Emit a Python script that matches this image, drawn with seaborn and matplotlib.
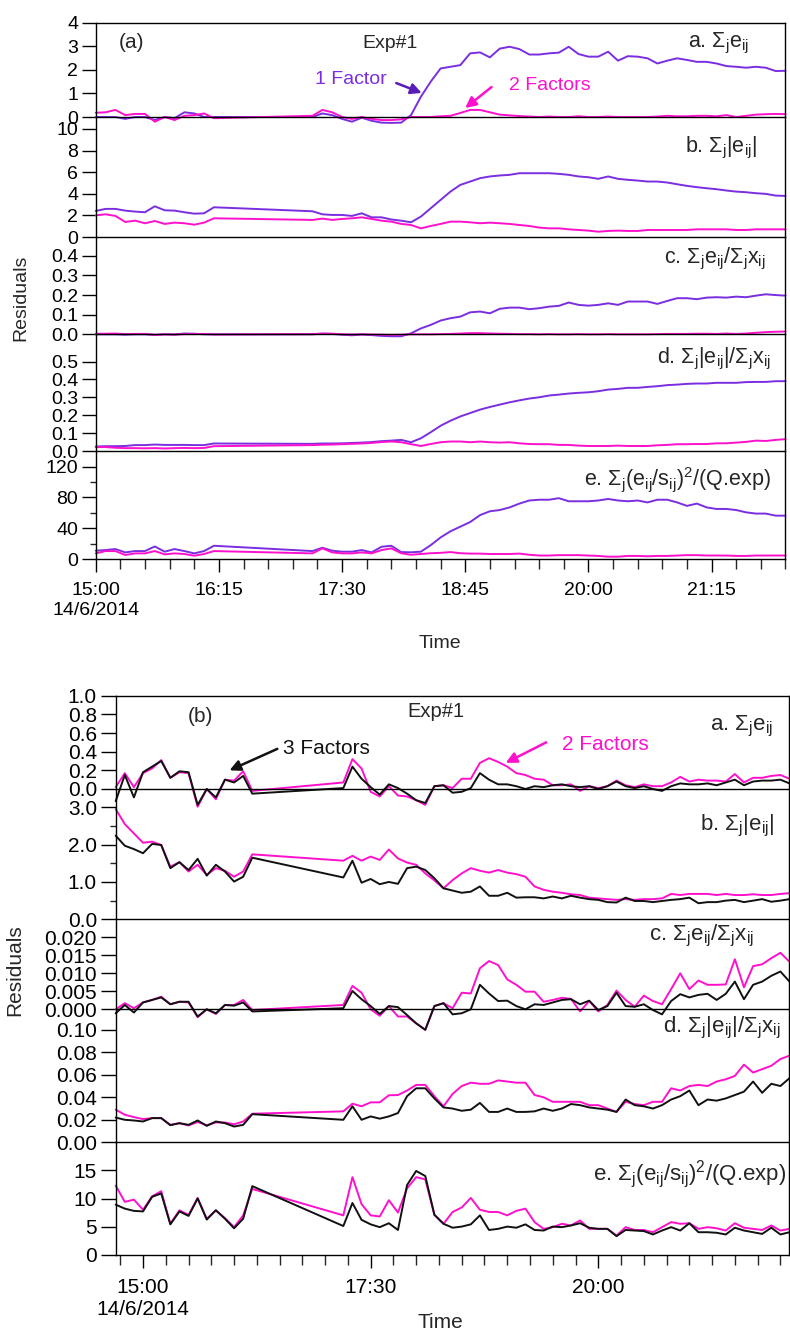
import numpy as np
import pandas as pd
import matplotlib
matplotlib.use("Agg")
import matplotlib.pyplot as plt
import matplotlib.ticker as mticker
import seaborn as sns

# ---------------------------------------------------------------- data
# sampling times, minutes after midnight on 14/6/2014 (6-min resolution, gap 16:12-17:12)
T_A = np.r_[np.arange(900, 972 + 1, 6), np.arange(1032, 1320 + 1, 6)]
T_B = np.r_[np.arange(882, 972 + 1, 6), np.arange(1032, 1326 + 1, 6)]

# (a) 1-factor vs 2-factor solution
A_SUM_E_1F = [0.0, 0.0, 0.0, -0.08, 0.0, 0.0, -0.13, 0.0, -0.05, 0.2, 0.15, 0.0, 0.0,
              0.0, 0.15, 0.08, -0.08, -0.2, -0.03, -0.16, -0.24,
              -0.25, -0.24, 0.08, 0.86, 1.5, 2.06, 2.13, 2.2, 2.7, 2.74, 2.53, 2.9, 2.98, 2.88,
              2.65, 2.65, 2.7, 2.73, 2.98, 2.67, 2.56, 2.56, 2.77, 2.39, 2.58, 2.56, 2.49, 2.27,
              2.39, 2.49, 2.42, 2.34, 2.34, 2.27, 2.16, 2.13, 2.09, 2.13, 2.09, 1.95, 1.96]
A_SUM_E_2F = [0.18, 0.2, 0.3, 0.08, 0.13, 0.13, -0.2, 0.0, -0.13, 0.05, 0.08, 0.15, -0.05,
              0.05, 0.3, 0.2, 0.0, -0.08, 0.0, -0.08, -0.13,
              -0.13, -0.1, 0.0, 0.0, 0.0, 0.03, 0.05, 0.17, 0.3, 0.3, 0.2, 0.1, 0.07, 0.04,
              0.02, 0.0, 0.02, 0.0, 0.0, 0.03, 0.0, 0.0, 0.02, 0.0, 0.0, 0.0, 0.0, 0.02,
              0.05, 0.03, 0.03, 0.05, 0.05, 0.03, 0.08, 0.0, 0.05, 0.1, 0.12, 0.13, 0.12]
A_SUM_ABS_1F = [2.41, 2.6, 2.6, 2.44, 2.35, 2.29, 2.84, 2.47, 2.44, 2.29, 2.16, 2.19, 2.75,
                2.38, 2.1, 2.04, 2.04, 1.95, 2.19, 1.82, 1.82,
                1.62, 1.51, 1.36, 1.89, 2.66, 3.43, 4.2, 4.82, 5.13, 5.44, 5.6, 5.69, 5.75, 5.9,
                5.9, 5.9, 5.9, 5.84, 5.75, 5.6, 5.53, 5.38, 5.6, 5.38, 5.29, 5.22, 5.13, 5.13,
                5.04, 4.88, 4.73, 4.61, 4.51, 4.42, 4.3, 4.2, 4.14, 4.05, 3.99, 3.83, 3.8]
A_SUM_ABS_2F = [2.0, 2.1, 1.95, 1.39, 1.51, 1.27, 1.48, 1.21, 1.33, 1.27, 1.14, 1.33, 1.73,
                1.58, 1.7, 1.58, 1.67, 1.73, 1.82, 1.67, 1.51,
                1.42, 1.21, 1.11, 0.8, 1.02, 1.21, 1.42, 1.42, 1.36, 1.27, 1.33, 1.27, 1.21, 1.11,
                1.02, 0.87, 0.8, 0.8, 0.71, 0.65, 0.59, 0.49, 0.56, 0.59, 0.56, 0.56, 0.65, 0.65,
                0.65, 0.65, 0.65, 0.71, 0.71, 0.71, 0.71, 0.65, 0.65, 0.71, 0.71, 0.71, 0.71]
A_REL_1F = [0.0, 0.0, 0.0, -0.002, 0.0, 0.0, -0.003, 0.0, -0.001, 0.004, 0.003, 0.0, 0.0,
            0.0, 0.003, 0.002, -0.002, -0.005, -0.001, -0.004, -0.008,
            -0.01, -0.01, 0.005, 0.03, 0.048, 0.07, 0.082, 0.09, 0.112, 0.116, 0.107, 0.13,
            0.136, 0.136, 0.128, 0.133, 0.141, 0.145, 0.162, 0.15, 0.146, 0.15, 0.158, 0.15,
            0.167, 0.167, 0.167, 0.155, 0.17, 0.184, 0.184, 0.179, 0.187, 0.189, 0.187, 0.192,
            0.189, 0.197, 0.204, 0.2, 0.197]
A_REL_2F = [0.003, 0.003, 0.004, 0.001, 0.002, 0.002, -0.003, 0.0, -0.002, 0.001, 0.001, 0.002, -0.001,
            0.001, 0.004, 0.003, 0.0, -0.001, 0.0, -0.001, -0.002,
            -0.003, -0.002, 0.0, 0.0, 0.0, 0.001, 0.002, 0.004, 0.006, 0.006, 0.004, 0.003,
            0.002, 0.001, 0.001, 0.0, 0.001, 0.0, 0.0, 0.001, 0.0, 0.0, 0.001, 0.0, 0.0, 0.0,
            0.0, 0.001, 0.002, 0.002, 0.002, 0.003, 0.003, 0.002, 0.004, 0.002, 0.004, 0.008,
            0.011, 0.013, 0.014]
A_REL_ABS_1F = [0.025, 0.027, 0.027, 0.028, 0.033, 0.033, 0.036, 0.034, 0.034, 0.034, 0.033, 0.033, 0.042,
                0.040, 0.042, 0.042, 0.043, 0.045, 0.047, 0.05, 0.055,
                0.058, 0.062, 0.049, 0.071, 0.105, 0.141, 0.169, 0.193, 0.212, 0.231, 0.246, 0.259,
                0.272, 0.283, 0.293, 0.3, 0.31, 0.315, 0.321, 0.325, 0.328, 0.334, 0.343, 0.347,
                0.353, 0.353, 0.358, 0.362, 0.368, 0.371, 0.375, 0.377, 0.377, 0.381, 0.381, 0.381,
                0.385, 0.386, 0.386, 0.39, 0.39]
A_REL_ABS_2F = [0.022, 0.022, 0.018, 0.016, 0.016, 0.015, 0.016, 0.014, 0.016, 0.017, 0.016, 0.017, 0.027,
                0.033, 0.035, 0.036, 0.038, 0.04, 0.042, 0.045, 0.05,
                0.053, 0.049, 0.038, 0.028, 0.039, 0.049, 0.053, 0.053, 0.049, 0.053, 0.049, 0.047,
                0.049, 0.043, 0.039, 0.038, 0.038, 0.034, 0.034, 0.03, 0.028, 0.028, 0.028, 0.03,
                0.028, 0.028, 0.028, 0.032, 0.034, 0.038, 0.038, 0.039, 0.039, 0.043, 0.043, 0.047,
                0.051, 0.058, 0.056, 0.062, 0.066]
A_Q_1F = [10.8, 11.6, 12.9, 8.6, 10.3, 10.3, 16.3, 9.5, 12.9, 10.3, 7.3, 10.3, 17.2,
          10.3, 14.6, 10.8, 9.5, 9.5, 11.6, 8.6, 15.9,
          17.2, 9.0, 8.7, 9.5, 18, 28, 36, 42, 48, 57, 62, 63.6, 67, 72, 76, 77, 77, 79, 75, 75,
          75, 76, 78, 76, 75, 76, 73.5, 77, 77, 73.5, 69, 72, 67, 65, 65, 63.6, 60.6, 59, 59,
          56.3, 56.3]
A_Q_2F = [7.3, 10.3, 10.3, 5.2, 7.3, 7.3, 10.3, 6.0, 7.3, 6.5, 4.3, 6.5, 10.3,
          7.3, 13.8, 8.6, 7.3, 7.3, 8.6, 7.3, 11.6,
          13.8, 7.5, 5.5, 6.5, 7.5, 8.0, 9.0, 7.5, 7.0, 7.0, 6.5, 6.5, 6.5, 7.0, 5.5, 4.5, 4.5,
          5.0, 5.0, 5.0, 4.5, 4.0, 3.0, 3.0, 4.0, 4.0, 3.5, 4.0, 4.0, 4.5, 5.0, 5.0, 4.5, 4.5,
          4.5, 4.0, 4.0, 4.5, 4.5, 4.5, 4.5]

# (b) 2-factor vs 3-factor solution
B_SUM_E_2F = [0.02, 0.17, 0.02, 0.17, 0.22, 0.31, 0.12, 0.18, 0.17, -0.19, 0.0, -0.11, 0.10, 0.09, 0.19, -0.02,
              0.07, 0.32, 0.22, -0.03, -0.08, 0.03, -0.07, -0.08, -0.12, -0.17,
              0.03, 0.04, 0.01, 0.11, 0.11, 0.28, 0.33, 0.29, 0.24, 0.17,
              0.15, 0.11, 0.10, 0.04, 0.04, 0.05, -0.02, 0.03, 0.01, 0.03,
              0.09, 0.04, 0.02, 0.05, 0.03, 0.03, 0.07, 0.13, 0.08, 0.10,
              0.09, 0.09, 0.08, 0.16, 0.07, 0.12, 0.12, 0.14, 0.15, 0.11]
B_SUM_E_3F = [-0.13, 0.15, -0.09, 0.18, 0.24, 0.30, 0.12, 0.19, 0.18, -0.17, 0.0, -0.09, 0.10, 0.07, 0.14, -0.05,
              0.01, 0.24, 0.11, 0.02, -0.06, 0.05, 0.01, -0.05, -0.12, -0.15,
              0.03, 0.04, -0.04, -0.03, 0.01, 0.17, 0.10, 0.05, 0.05, 0.03,
              0.0, 0.03, 0.02, 0.04, 0.05, 0.03, 0.02, 0.03, 0.0, 0.03,
              0.08, 0.03, 0.01, 0.03, 0.0, -0.02, 0.03, 0.06, 0.05, 0.05,
              0.06, 0.04, 0.07, 0.10, 0.04, 0.08, 0.09, 0.09, 0.10, 0.06]
B_SUM_ABS_2F = [2.95, 2.55, 2.30, 2.05, 2.08, 1.99, 1.41, 1.53, 1.28, 1.46, 1.19, 1.37, 1.30, 1.14, 1.28, 1.74,
                1.57, 1.70, 1.57, 1.68, 1.59, 1.87, 1.63,
                1.52, 1.46, 1.23, 1.04, 0.83, 1.05, 1.23, 1.37, 1.30, 1.25,
                1.32, 1.25, 1.21, 1.14, 0.88, 0.79, 0.74, 0.71, 0.67, 0.65,
                0.58, 0.56, 0.54, 0.52, 0.54, 0.52, 0.54, 0.54, 0.56, 0.68,
                0.65, 0.68, 0.68, 0.68, 0.65, 0.68, 0.65, 0.65, 0.67, 0.65, 0.65, 0.68, 0.70]
B_SUM_ABS_3F = [2.24, 1.97, 1.88, 1.77, 2.02, 1.99, 1.37, 1.53, 1.32, 1.62, 1.17, 1.46, 1.28, 1.01, 1.14, 1.65,
                1.12, 1.57, 0.98, 1.08, 0.94, 1.0, 0.95,
                1.37, 1.41, 1.32, 1.10, 0.83, 0.77, 0.71, 0.74, 0.88, 0.63,
                0.63, 0.71, 0.58, 0.59, 0.59, 0.56, 0.61, 0.56, 0.63, 0.58,
                0.54, 0.52, 0.46, 0.45, 0.58, 0.49, 0.49, 0.46, 0.49, 0.52,
                0.54, 0.58, 0.43, 0.46, 0.46, 0.50, 0.52, 0.46, 0.50, 0.54, 0.47, 0.50, 0.54]
B_REL_2F = [0.0, 0.0017, 0.0003, 0.0019, 0.0026, 0.0035, 0.0014, 0.0021, 0.0019, -0.0022, 0.0, -0.0013,
            0.0012, 0.0012, 0.0026, -0.0002,
            0.0012, 0.0065, 0.0046, 0.0, -0.0018, 0.0009, -0.002,
            -0.002, -0.0039, -0.0057, 0.0009, 0.0017, 0.0003, 0.0046, 0.0044, 0.0114, 0.0134,
            0.0123, 0.0083, 0.0068, 0.0049, 0.0049, 0.0021, 0.0026, 0.0032, 0.0029, -0.0006,
            0.0023, -0.0006, 0.0012, 0.0052, 0.0026, 0.0007, 0.0038, 0.0023, 0.0014, 0.0056,
            0.01, 0.0056, 0.008, 0.0068, 0.0068, 0.0069, 0.0139, 0.0061, 0.012, 0.0125,
            0.0142, 0.0157, 0.0132]
B_REL_3F = [-0.0011, 0.0012, -0.0009, 0.0019, 0.0026, 0.0033, 0.0014, 0.0021, 0.0021, -0.002, 0.0, -0.0011,
            0.0012, 0.001, 0.0019, -0.0006,
            0.0003, 0.0051, 0.0028, 0.0009, -0.0013, 0.0009, 0.0006,
            -0.0016, -0.0039, -0.0057, 0.0009, 0.0017, -0.0014, -0.0011, 0.0, 0.0068, 0.0044,
            0.0023, 0.0024, 0.0009, 0.0, 0.0014, 0.0012, 0.0019, 0.0026, 0.0028, 0.0014,
            0.0024, -0.0002, 0.0009, 0.0046, 0.0009, 0.0007, 0.0014, -0.0002, -0.0014, 0.0023,
            0.0042, 0.0033, 0.004, 0.0043, 0.0026, 0.0043, 0.0077, 0.0028, 0.0068, 0.0077,
            0.0093, 0.0105, 0.0077]
B_REL_ABS_2F = [0.029, 0.0245, 0.0224, 0.0206, 0.0215, 0.0215, 0.0155, 0.017, 0.015, 0.018, 0.0152, 0.0176,
                0.0176, 0.016, 0.0185, 0.0254,
                0.0275, 0.0343, 0.032, 0.0355, 0.0355, 0.0418, 0.042,
                0.046, 0.051, 0.051, 0.041, 0.032, 0.043, 0.050, 0.053, 0.052, 0.052,
                0.055, 0.054, 0.053, 0.053, 0.042, 0.040, 0.036, 0.036, 0.036, 0.036,
                0.033, 0.033, 0.030, 0.027, 0.036, 0.034, 0.033, 0.036, 0.036, 0.048,
                0.046, 0.050, 0.051, 0.050, 0.054, 0.056, 0.059, 0.069, 0.062, 0.065,
                0.068, 0.074, 0.077]
B_REL_ABS_3F = [0.022, 0.020, 0.0194, 0.0185, 0.0215, 0.0215, 0.0152, 0.017, 0.0155, 0.0194, 0.0146, 0.0185,
                0.017, 0.014, 0.0155, 0.025,
                0.020, 0.032, 0.020, 0.023, 0.021, 0.023, 0.026,
                0.041, 0.048, 0.048, 0.039, 0.031, 0.030, 0.028, 0.029, 0.035, 0.027,
                0.027, 0.030, 0.027, 0.027, 0.0275, 0.030, 0.028, 0.030, 0.034, 0.033,
                0.031, 0.030, 0.029, 0.027, 0.038, 0.033, 0.032, 0.030, 0.033, 0.038,
                0.041, 0.046, 0.033, 0.038, 0.037, 0.039, 0.042, 0.045, 0.054, 0.044,
                0.052, 0.050, 0.057]
B_Q_2F = [12.3, 9.4, 9.8, 8.0, 10.4, 11.3, 5.5, 7.9, 7.1, 10.1, 6.4, 7.9, 6.5, 4.9, 7.0, 11.7,
          7.0, 13.8, 9.0, 7.0, 6.8, 9.7,
          7.5, 11.8, 13.8, 13.4, 7.1, 5.5, 7.6, 8.4, 10.1, 8.0,
          7.6, 7.6, 7.0, 7.8, 8.2, 5.8, 4.6, 4.9, 5.5, 5.2,
          6.1, 4.6, 4.6, 4.6, 3.4, 4.9, 4.4, 4.4, 4.0, 4.9,
          5.8, 5.5, 5.6, 4.6, 4.9, 4.7, 4.3, 5.6, 4.8, 4.6,
          4.4, 5.2, 4.3, 4.6]
B_Q_3F = [8.9, 8.2, 7.8, 7.7, 10.3, 10.9, 5.4, 7.7, 6.9, 10.0, 6.25, 7.9, 6.4, 4.7, 6.4, 12.2,
          5.1, 9.2, 6.2, 5.4, 4.9, 5.6,
          4.4, 12.4, 14.9, 14.0, 7.1, 5.5, 4.8, 5.0, 5.4, 7.0,
          4.4, 4.6, 5.0, 4.8, 5.4, 4.4, 4.3, 5.0, 4.9, 5.2,
          5.6, 4.8, 4.6, 4.6, 3.3, 4.4, 4.3, 4.2, 3.6, 4.3,
          4.9, 4.3, 5.6, 4.0, 4.0, 3.9, 3.6, 4.8, 4.3, 4.0,
          3.7, 4.8, 3.6, 4.0]

PANEL_LABELS = [r"a. $\mathregular{\Sigma_je_{ij}}$",
                r"b. $\mathregular{\Sigma_j|e_{ij}|}$",
                r"c. $\mathregular{\Sigma_je_{ij}/\Sigma_jx_{ij}}$",
                r"d. $\mathregular{\Sigma_j|e_{ij}|/\Sigma_jx_{ij}}$",
                r"e. $\mathregular{\Sigma_j(e_{ij}/s_{ij})^2}$/(Q.exp)"]

A_XTICKS = [900, 975, 1050, 1125, 1200, 1275]
A_XTICKLABELS = ["15:00\n14/6/2014", "16:15", "17:30", "18:45", "20:00", "21:15"]
B_XTICKS = [900, 1050, 1200]
B_XTICKLABELS = ["15:00\n14/6/2014", "17:30", "20:00"]

# ---------------------------------------------------------------- style
sns.set_theme(style="ticks", context="notebook")
plt.rcParams["font.family"] = ["Liberation Sans", "DejaVu Sans"]
plt.rcParams["mathtext.fontset"] = "custom"
plt.rcParams["mathtext.rm"] = "Liberation Sans"
plt.rcParams["mathtext.it"] = "Liberation Sans:italic"
plt.rcParams["mathtext.bf"] = "Liberation Sans:bold"
plt.rcParams["mathtext.sf"] = "Liberation Sans"
plt.rcParams["axes.linewidth"] = 1.0
plt.rcParams["axes.edgecolor"] = "black"

PURPLE = "#7a2ee0"
PURPLE_DARK = "#5a1cb8"
MAGENTA = "#ff10cc"
BLACK = "#111111"

W, H = 790, 1333
fig = plt.figure(figsize=(W / 100, H / 100), dpi=100)
fig.patch.set_facecolor("white")


def fx(x):
    return x / W


def fy(y):
    return 1 - y / H


def add_panel(left, right, top, bottom):
    return fig.add_axes([fx(left), fy(bottom), (right - left) / W, (bottom - top) / H])


def draw_group(left, right, edges, times, panels, names, palette, xlim,
               xticks, xticklabels, xminor, yfs, xfs, lfs, ytick_len, label_pos):
    axes = []
    n = len(panels)
    for i, p in enumerate(panels):
        ax = add_panel(left, right, edges[i], edges[i + 1])
        ax.set_facecolor("none")
        df = pd.DataFrame({
            "time": np.r_[times, times],
            "value": np.r_[p["series"][0], p["series"][1]],
            "model": [names[0]] * len(times) + [names[1]] * len(times),
        })
        sns.lineplot(data=df, x="time", y="value", hue="model", hue_order=names,
                     palette=palette, estimator=None, sort=False, legend=False,
                     linewidth=1.4, ax=ax)
        for ln in ax.lines:
            ln.set_clip_on(False)
        ax.set_xlim(*xlim)
        ax.set_ylim(*p["ylim"])
        ax.set_yticks(p["yticks"])
        if p.get("yminor"):
            ax.set_yticks(p["yminor"], minor=True)
        ax.yaxis.set_major_formatter(mticker.FormatStrFormatter(p["fmt"]))
        ax.tick_params(axis="y", which="major", direction="out", length=ytick_len, width=1.0,
                       pad=2.5, labelsize=yfs, colors="black")
        ax.tick_params(axis="y", which="minor", direction="out", length=4.5, width=1.0)
        ax.set_xlabel("")
        ax.set_ylabel("")
        for s in ("left", "right", "bottom"):
            ax.spines[s].set_visible(True)
            ax.spines[s].set_color("black")
            ax.spines[s].set_linewidth(1.0)
        ax.spines["top"].set_visible(i == 0)
        ax.spines["top"].set_linewidth(1.0)
        if i < n - 1:
            ax.tick_params(axis="x", which="both", bottom=False, labelbottom=False)
        else:
            ax.set_xticks(xticks)
            ax.set_xticklabels(xticklabels)
            ax.set_xticks(xminor, minor=True)
            ax.tick_params(axis="x", which="major", direction="out", length=9.5, width=1.0,
                           pad=7, labelsize=xfs, colors="black")
            ax.tick_params(axis="x", which="minor", direction="out", length=7, width=1.0)
        lx, ly = label_pos[i]
        fig.text(fx(lx), fy(ly), PANEL_LABELS[i], ha="right", va="center", fontsize=lfs)
        axes.append(ax)
    return axes


ARROW = dict(arrowstyle="-|>", lw=1.8, mutation_scale=16, shrinkA=0, shrinkB=0)

# ---------------------------------------------------------------- group (a)
panels_a = [
    dict(series=(A_SUM_E_1F, A_SUM_E_2F), ylim=(0, 4), yticks=[0, 1, 2, 3, 4], fmt="%d"),
    dict(series=(A_SUM_ABS_1F, A_SUM_ABS_2F), ylim=(0, 11.1), yticks=[0, 2, 4, 6, 8, 10], fmt="%d"),
    dict(series=(A_REL_1F, A_REL_2F), ylim=(0, 0.496), yticks=[0, 0.1, 0.2, 0.3, 0.4], fmt="%.1f"),
    dict(series=(A_REL_ABS_1F, A_REL_ABS_2F), ylim=(0, 0.652), yticks=[0, 0.1, 0.2, 0.3, 0.4, 0.5], fmt="%.1f"),
    dict(series=(A_Q_1F, A_Q_2F), ylim=(0, 140.3), yticks=[0, 40, 80, 120], yminor=[20, 60, 100], fmt="%d"),
]
axes_a = draw_group(95.7, 785.5, [22.7, 117, 237, 334.3, 451, 559], T_A, panels_a,
                    ["1 Factor", "2 Factors"], [PURPLE, MAGENTA], (900, 1320),
                    A_XTICKS, A_XTICKLABELS, np.arange(900, 1320 + 1, 15), 14, 14, 15.5, 10,
                    [(749, 43), (757, 148), (766, 259), (771, 359), (771, 479)])

fig.text(fx(131), fy(43), "(a)", ha="center", va="center", fontsize=15)
fig.text(fx(390), fy(43), "Exp#1", ha="center", va="center", fontsize=14)
fig.text(fx(351), fy(79), "1 Factor", ha="center", va="center", fontsize=14, color=PURPLE)
axes_a[0].annotate("", xy=(1098.5, 1.02), xytext=(1083, 1.44),
                   arrowprops=dict(ARROW, color=PURPLE_DARK), annotation_clip=False)
fig.text(fx(550), fy(85), "2 Factors", ha="center", va="center", fontsize=14, color=MAGENTA)
axes_a[0].annotate("", xy=(1125, 0.38), xytext=(1141, 1.27),
                   arrowprops=dict(ARROW, color=MAGENTA), annotation_clip=False)
fig.text(fx(21), fy(298), "Residuals", ha="center", va="center", rotation=90, fontsize=14)
fig.text(fx(440), fy(643), "Time", ha="center", va="center", fontsize=14)

# ---------------------------------------------------------------- group (b)
panels_b = [
    dict(series=(B_SUM_E_2F, B_SUM_E_3F), ylim=(0, 1.0), yticks=[0, 0.2, 0.4, 0.6, 0.8, 1.0], fmt="%.1f"),
    dict(series=(B_SUM_ABS_2F, B_SUM_ABS_3F), ylim=(0, 3.49), yticks=[0, 1, 2, 3],
         yminor=[0.5, 1.5, 2.5], fmt="%.1f"),
    dict(series=(B_REL_2F, B_REL_3F), ylim=(0, 0.025), yticks=[0, 0.005, 0.010, 0.015, 0.020], fmt="%.3f"),
    dict(series=(B_REL_ABS_2F, B_REL_ABS_3F), ylim=(0, 0.1182), yticks=[0, 0.02, 0.04, 0.06, 0.08, 0.10],
         fmt="%.2f"),
    dict(series=(B_Q_2F, B_Q_3F), ylim=(0, 20), yticks=[0, 5, 10, 15], fmt="%d"),
]
axes_b = draw_group(115.7, 789.5, [695.7, 789, 919.3, 1009.3, 1142.3, 1254.7], T_B, panels_b,
                    ["2 Factors", "3 Factors"], [MAGENTA, BLACK], (882, 1326),
                    B_XTICKS, B_XTICKLABELS, np.arange(885, 1320 + 1, 15), 15, 15, 16, 11,
                    [(773, 726), (774, 826), (754, 936), (781, 1028), (786, 1174)])

fig.text(fx(200), fy(717), "(b)", ha="center", va="center", fontsize=15)
fig.text(fx(436), fy(712), "Exp#1", ha="center", va="center", fontsize=14.5)
fig.text(fx(326), fy(749), "3 Factors", ha="center", va="center", fontsize=15, color=BLACK)
axes_b[0].annotate("", xy=(957, 0.2), xytext=(988.5, 0.43),
                   arrowprops=dict(ARROW, color=BLACK), annotation_clip=False)
fig.text(fx(605), fy(744), "2 Factors", ha="center", va="center", fontsize=15, color=MAGENTA)
axes_b[0].annotate("", xy=(1139, 0.28), xytext=(1165.7, 0.50),
                   arrowprops=dict(ARROW, color=MAGENTA), annotation_clip=False)
fig.text(fx(15), fy(970), "Residuals", ha="center", va="center", rotation=90, fontsize=15)
fig.text(fx(440), fy(1322), "Time", ha="center", va="center", fontsize=15)

fig.savefig("out.png", dpi=100, facecolor="white")
